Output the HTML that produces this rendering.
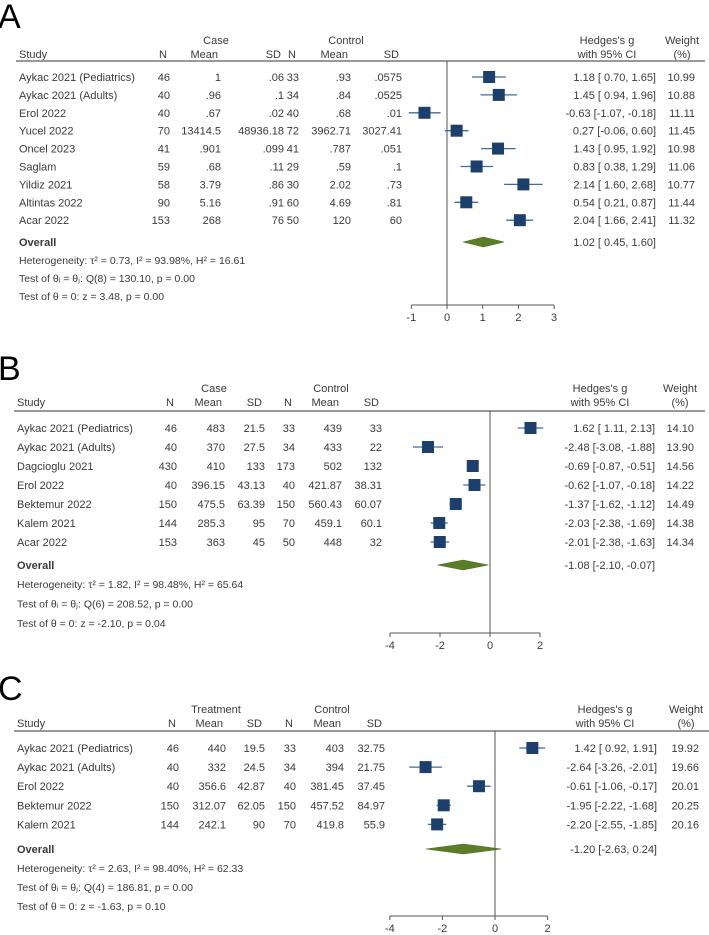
<!DOCTYPE html>
<html><head><meta charset="utf-8"><style>
body{margin:0;background:#fff;}
svg{display:block;font-family:"Liberation Sans",Arial,sans-serif;}
text{fill:#3a3a3a;font-size:11px;}
</style></head><body>
<svg id="chart" width="709" height="935" viewBox="0 0 709 935"></svg>
<script>
// ---- Panel A data ----
const studiesA = ["Aykac 2021 (Pediatrics)","Aykac 2021 (Adults)","Erol 2022","Yucel 2022","Oncel 2023","Saglam","Yildiz 2021","Altintas 2022","Acar 2022"];
const nCaseA = ["46","40","40","70","41","59","58","90","153"];
const meanCaseA = ["1",".96",".67","13414.5",".901",".68","3.79","5.16","268"];
const sdCaseA = [".06",".1",".02","48936.18",".099",".11",".86",".91","76"];
const nCtrlA = ["33","34","40","72","41","29","30","60","50"];
const meanCtrlA = [".93",".84",".68","3962.71",".787",".59","2.02","4.69","120"];
const sdCtrlA = [".0575",".0525",".01","3027.41",".051",".1",".73",".81","60"];
const gA = [1.18,1.45,-0.63,0.27,1.43,0.83,2.14,0.54,2.04];
const loA = [0.70,0.94,-1.07,-0.06,0.95,0.38,1.60,0.21,1.66];
const hiA = [1.65,1.96,-0.18,0.60,1.92,1.29,2.68,0.87,2.41];
const wA = ["10.99","10.88","11.11","11.45","10.98","11.06","10.77","11.44","11.32"];
const overallA = [1.02,0.45,1.60];
const ticksA = [-1,0,1,2,3];
const statsA = ["Heterogeneity: τ² = 0.73, I² = 93.98%, H² = 16.61","Test of θᵢ = θⱼ: Q(8) = 130.10, p = 0.00","Test of θ = 0: z = 3.48, p = 0.00"];
// ---- Panel B data ----
const studiesB = ["Aykac 2021 (Pediatrics)","Aykac 2021 (Adults)","Dagcioglu 2021","Erol 2022","Bektemur 2022","Kalem 2021","Acar 2022"];
const nCaseB = ["46","40","430","40","150","144","153"];
const meanCaseB = ["483","370","410","396.15","475.5","285.3","363"];
const sdCaseB = ["21.5","27.5","133","43.13","63.39","95","45"];
const nCtrlB = ["33","34","173","40","150","70","50"];
const meanCtrlB = ["439","433","502","421.87","560.43","459.1","448"];
const sdCtrlB = ["33","22","132","38.31","60.07","60.1","32"];
const gB = [1.62,-2.48,-0.69,-0.62,-1.37,-2.03,-2.01];
const loB = [1.11,-3.08,-0.87,-1.07,-1.62,-2.38,-2.38];
const hiB = [2.13,-1.88,-0.51,-0.18,-1.12,-1.69,-1.63];
const wB = ["14.10","13.90","14.56","14.22","14.49","14.38","14.34"];
const overallB = [-1.08,-2.10,-0.07];
const ticksB = [-4,-2,0,2];
const statsB = ["Heterogeneity: τ² = 1.82, I² = 98.48%, H² = 65.64","Test of θᵢ = θⱼ: Q(6) = 208.52, p = 0.00","Test of θ = 0: z = -2.10, p = 0.04"];
// ---- Panel C data ----
const studiesC = ["Aykac 2021 (Pediatrics)","Aykac 2021 (Adults)","Erol 2022","Bektemur 2022","Kalem 2021"];
const nCaseC = ["46","40","40","150","144"];
const meanCaseC = ["440","332","356.6","312.07","242.1"];
const sdCaseC = ["19.5","24.5","42.87","62.05","90"];
const nCtrlC = ["33","34","40","150","70"];
const meanCtrlC = ["403","394","381.45","457.52","419.8"];
const sdCtrlC = ["32.75","21.75","37.45","84.97","55.9"];
const gC = [1.42,-2.64,-0.61,-1.95,-2.20];
const loC = [0.92,-3.26,-1.06,-2.22,-2.55];
const hiC = [1.91,-2.01,-0.17,-1.68,-1.85];
const wC = ["19.92","19.66","20.01","20.25","20.16"];
const overallC = [-1.20,-2.63,0.24];
const ticksC = [-4,-2,0,2];
const statsC = ["Heterogeneity: τ² = 2.63, I² = 98.40%, H² = 62.33","Test of θᵢ = θⱼ: Q(4) = 186.81, p = 0.00","Test of θ = 0: z = -1.63, p = 0.10"];

const svg = document.getElementById('chart');
const NS = 'http://www.w3.org/2000/svg';
function mk(tag, attrs, parent){
  const e = document.createElementNS(NS, tag);
  for (const k in attrs) e.setAttribute(k, attrs[k]);
  (parent||svg).appendChild(e);
  return e;
}
function txt(parent, x, y, s, anchor, extra){
  const t = mk('text', Object.assign({x:x, y:y, 'text-anchor':anchor||'start'}, extra||{}), parent);
  t.textContent = s;
  return t;
}
const f2 = v => v.toFixed(2);
function ciStr(g, lo, hi){
  const p = v => (v < 0 ? '' : ' ') + f2(v);
  return f2(g) + ' [' + p(lo) + ', ' + p(hi) + ']';
}

function panel(cfg){
  const g = mk('g', {});
  
  
  const sx = v => cfg.x0 + v * cfg.ppu;
  const L = txt(g, -2, cfg.letterY, cfg.letter, 'start', {style:'font-size:34px;fill:#000'});
  
  
  const C = cfg.cols;
  const hy = cfg.headY;
  const h1 = txt(g, cfg.grp1X, hy - 14, cfg.grp1, 'middle');
  
  
  const h2 = txt(g, cfg.grp2X, hy - 14, 'Control', 'middle');
  
  
  const hs = txt(g, cfg.studyX, hy, 'Study');
  
  
  const hdr = ['N','Mean','SD','N','Mean','SD'];
  hdr.forEach((s,i) => {
    const t = txt(g, C[i] - 3, hy, s, 'end');
    
    
  });
  const hg = txt(g, cfg.hedX, hy - 14, "Hedges's g", 'middle');
  
  
  txt(g, cfg.hedX, hy, 'with 95% CI', 'middle');
  const hw = txt(g, cfg.wX, hy - 14, 'Weight', 'middle');
  
  
  txt(g, cfg.wX, hy, '(%)', 'middle');
  const rule = mk('line', {x1:cfg.studyX-3, x2:cfg.ruleEnd, y1:cfg.ruleY, y2:cfg.ruleY, stroke:'#999', 'stroke-width':2}, g);
  
  
  const zl = mk('line', {x1:sx(0), x2:sx(0), y1:cfg.ruleY, y2:cfg.axisY, stroke:'#555', 'stroke-width':1}, g);
  
  

  const cols = [cfg.n1, cfg.m1, cfg.s1, cfg.n2, cfg.m2, cfg.s2];
  cfg.studies.forEach((s,i) => {
    const y = cfg.rowY0 + i * cfg.rowH;
    const row = mk('g', {}, g);
    
    
    txt(row, cfg.studyX, y + 4, s);
    cols.forEach((arr, j) => txt(row, C[j], y + 4, arr[i], 'end'));
    const ci = mk('line', {x1:sx(cfg.lo[i]), x2:sx(cfg.hi[i]), y1:y, y2:y, stroke:'#3f6c9e', 'stroke-width':1.3}, row);
    
    
    const m = 12;
    const b = mk('rect', {x:sx(cfg.g[i]) - m/2, y:y - m/2, width:m, height:m, fill:'#1d3f6b'}, row);
    
    
    txt(row, cfg.ciX, y + 4, ciStr(cfg.g[i], cfg.lo[i], cfg.hi[i]), 'end');
    txt(row, cfg.wR, y + 4, cfg.w[i], 'end');
  });
  const oy = cfg.overallY;
  const ol = txt(g, cfg.studyX, oy + 4, 'Overall', 'start', {style:'font-weight:bold;font-size:11px'});
  
  
  const o = cfg.overall;
  const d = mk('polygon', {points:[sx(o[1])+','+oy, sx(o[0])+','+(oy-5), sx(o[2])+','+oy, sx(o[0])+','+(oy+5)].join(' '), fill:'#5b7d2a', stroke:'#4a6a20', 'stroke-width':0.6}, g);
  
  
  txt(g, cfg.ciX, oy + 4, ciStr(o[0], o[1], o[2]), 'end');
  cfg.stats.forEach((s,i) => {
    const t = txt(g, cfg.studyX, cfg.statY0 + i * cfg.statH + 4, s, 'start', {style:'font-size:10.5px'});
    
    
  });
  const ax = mk('g', {}, g);
  
  
  const tk = cfg.ticks;
  mk('line', {x1:sx(tk[0]), x2:sx(tk[tk.length-1]), y1:cfg.axisY, y2:cfg.axisY, stroke:'#555'}, ax);
  tk.forEach(v => {
    mk('line', {x1:sx(v), x2:sx(v), y1:cfg.axisY, y2:cfg.axisY + 4, stroke:'#555'}, ax);
    const t = txt(ax, sx(v), cfg.axisY + 16, String(v), 'middle');
    
    
  });
}

panel({letter:'A', letterY:28, headY:58, grp1:'Case', grp1X:216, grp2X:346, studyX:19,
  cols:[170,221,284,299,351,402], hedX:607, wX:682, ruleY:61, ruleEnd:705,
  x0:447, ppu:35.7, axisY:305, rowY0:77, rowH:17.9, overallY:242, statY0:260, statH:18,
  studies:studiesA, n1:nCaseA, m1:meanCaseA, s1:sdCaseA, n2:nCtrlA, m2:meanCtrlA, s2:sdCtrlA,
  g:gA, lo:loA, hi:hiA, w:wA, overall:overallA, ticks:ticksA, stats:statsA, ciX:656, wR:695});
panel({letter:'B', letterY:380, headY:406, grp1:'Case', grp1X:214, grp2X:331, studyX:17,
  cols:[177,225,265,295,342,382], hedX:600, wX:680, ruleY:411, ruleEnd:705,
  x0:490, ppu:25, axisY:633, rowY0:428, rowH:19.0, overallY:565, statY0:584, statH:19.5,
  studies:studiesB, n1:nCaseB, m1:meanCaseB, s1:sdCaseB, n2:nCtrlB, m2:meanCtrlB, s2:sdCtrlB,
  g:gB, lo:loB, hi:hiB, w:wB, overall:overallB, ticks:ticksB, stats:statsB, ciX:655, wR:694});
panel({letter:'C', letterY:700, headY:727, grp1:'Treatment', grp1X:216, grp2X:332, studyX:17,
  cols:[179,226,265,296,344,385], hedX:605, wX:686, ruleY:731, ruleEnd:709,
  x0:495, ppu:26.3, axisY:916, rowY0:748, rowH:19.1, overallY:849, statY0:868, statH:19,
  studies:studiesC, n1:nCaseC, m1:meanCaseC, s1:sdCaseC, n2:nCtrlC, m2:meanCtrlC, s2:sdCtrlC,
  g:gC, lo:loC, hi:hiC, w:wC, overall:overallC, ticks:ticksC, stats:statsC, ciX:657, wR:699});
</script>
</body></html>
